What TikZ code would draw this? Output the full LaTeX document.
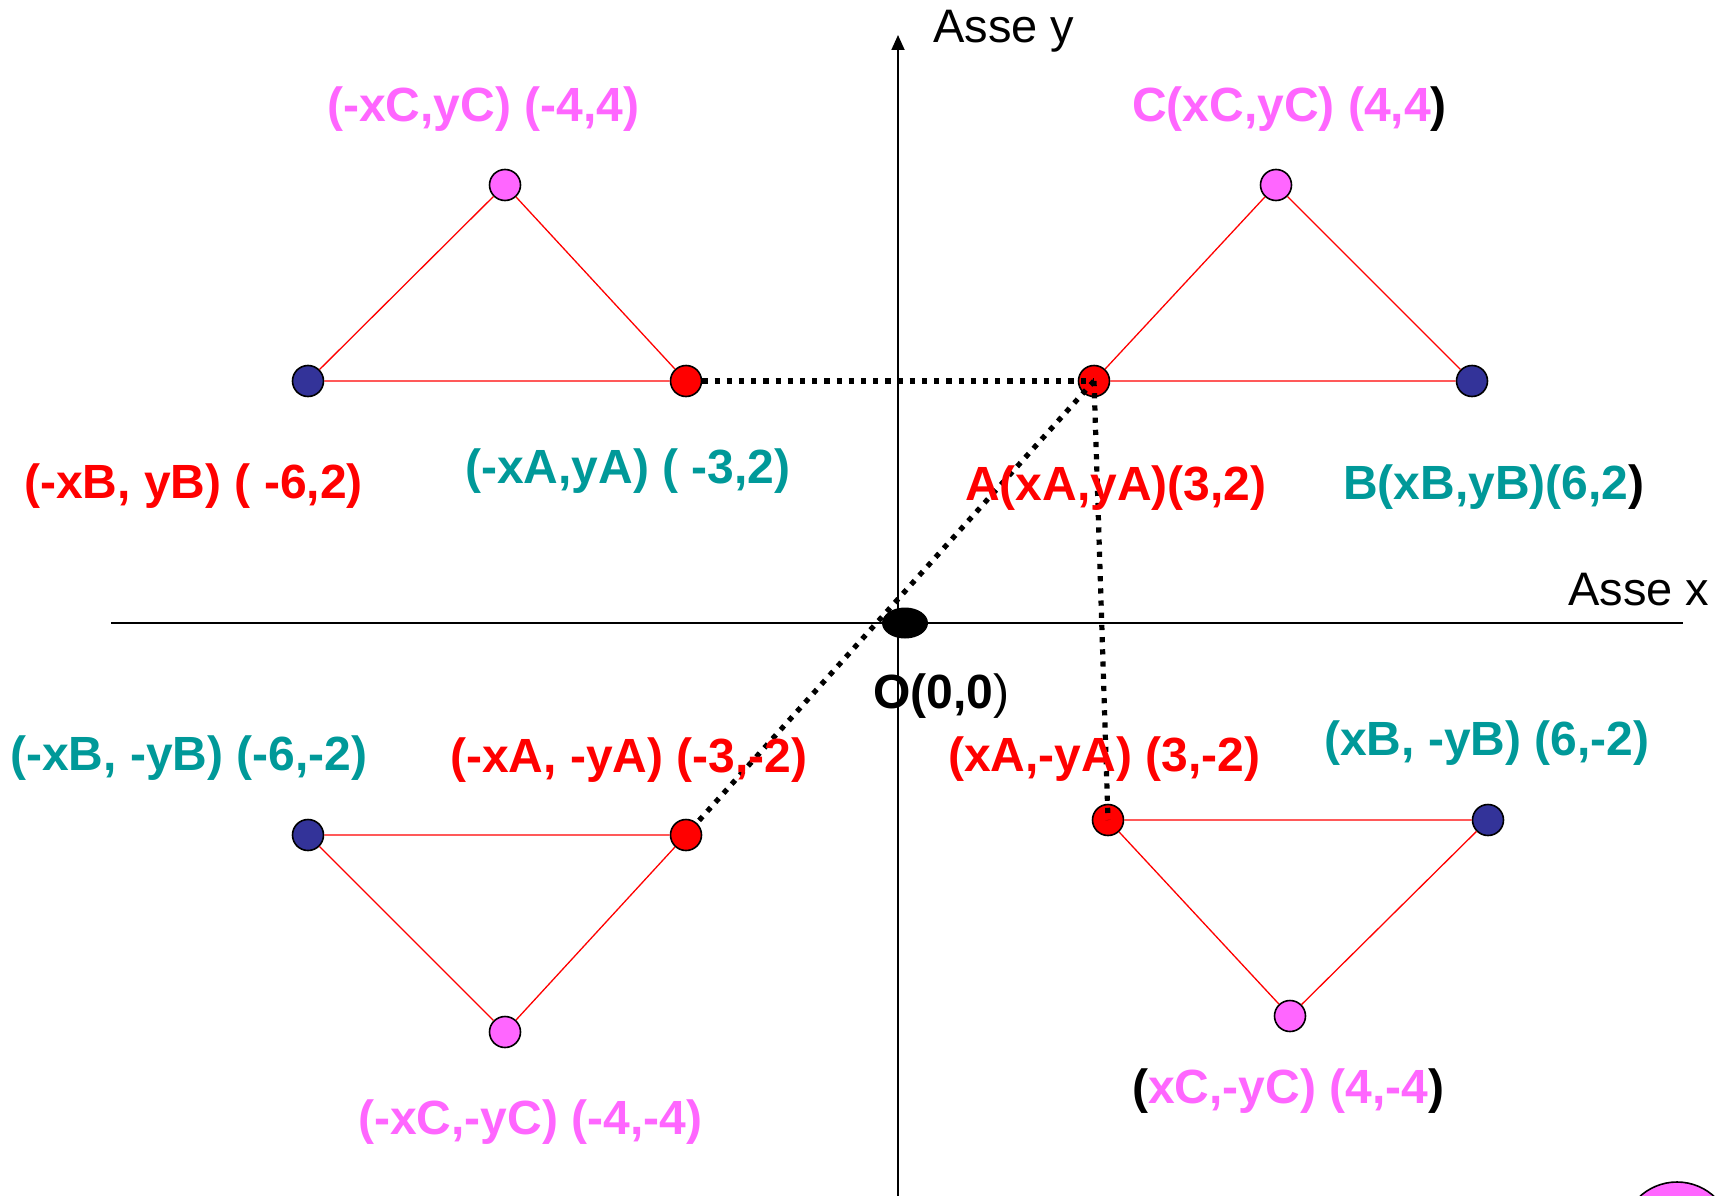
\documentclass[tikz,border=0pt]{standalone}
\usepackage{fontspec}
\setmainfont{Liberation Sans}
\usetikzlibrary{arrows.meta,shapes.geometric}
\definecolor{ptPink}{HTML}{FF66FF}
\definecolor{ptRed}{HTML}{FF0000}
\definecolor{ptTeal}{HTML}{009999}
\definecolor{ptBlue}{HTML}{333399}

\begin{document}
\begin{tikzpicture}[
  x=1pt, y=-1pt,
  font=\fontsize{47}{51}\selectfont,
  axis/.style={line width=1.8pt, draw=black},
  tri/.style={line width=1.3pt, draw=ptRed},
  dot/.style={
    circle, draw=black, line width=1.6pt, minimum size=31pt, inner sep=0pt
  },
  proj/.style={line width=5.2pt, draw=black, dash pattern=on 5.2pt off 7pt},
  lbl/.style={
    anchor=base west, inner sep=0pt, font=\fontsize{48}{52}\selectfont\bfseries
  },
]
\useasboundingbox (0,0) rectangle (1729,1196);

% axes
\coordinate (xl) at (111,623);
\coordinate (xr) at (1683,623);
\coordinate (yb) at (898,1196);
\coordinate (yt) at (898,35);
\draw[axis] (xl) -- (xr);
\draw[axis, -{Triangle[length=15pt,width=13pt]}] (yb) -- (yt);
\node[anchor=base west, inner sep=0pt] (ylab) at (933,43) {Asse y};
\node[anchor=base west, inner sep=0pt] (xlab) at (1568,605) {Asse x};

% the four triangles
\node[dot, fill=ptRed]  (A) at (1094,381) {};
\node[dot, fill=ptBlue] (B) at (1472,381) {};
\node[dot, fill=ptPink] (C) at (1276,185) {};

\node[dot, fill=ptRed]  (nA) at (686,381) {};
\node[dot, fill=ptBlue] (nB) at (308,381) {};
\node[dot, fill=ptPink] (nC) at (505,185) {};

\node[dot, fill=ptRed]  (nnA) at (686,835) {};
\node[dot, fill=ptBlue] (nnB) at (308,835) {};
\node[dot, fill=ptPink] (nnC) at (505,1032) {};

\node[dot, fill=ptRed]  (sA) at (1108,820) {};
\node[dot, fill=ptBlue] (sB) at (1488,820) {};
\node[dot, fill=ptPink] (sC) at (1290,1016) {};

\draw[tri] (A) -- (B) -- (C) -- (A);
\draw[tri] (nA) -- (nB) -- (nC) -- (nA);
\draw[tri] (nnA) -- (nnB) -- (nnC) -- (nnA);
\draw[tri] (sA) -- (sB) -- (sC) -- (sA);

\node[ellipse, fill=black, minimum width=46pt, minimum height=31pt,
  inner sep=0pt] (O) at (905,623) {};
\node[dot, fill=ptPink, minimum size=110pt] (corner) at (1677,1237) {};

% projections of A
\draw[proj] (nA) -- (A.center);
\draw[proj] (A.center) -- (nnA);
\draw[proj] (A.center) -- (sA.center);

% labels
\node[lbl, text=ptPink] (lnC) at (327,122) {(-xC,yC) (-4,4)};
\node[lbl, text=ptPink] (lC) at (1132,122) {C(xC,yC) (4,4\textcolor{black}{)}};
\node[lbl, text=ptRed]  (lnB) at (24,498) {(-xB, yB) ( -6,2)};
\node[lbl, text=ptTeal] (lnA) at (465,483) {(-xA,yA) ( -3,2)};
\node[lbl, text=ptRed]  (lA) at (965,500) {A(xA,yA)(3,2)};
\node[lbl, text=ptTeal] (lB) at (1343,499) {B(xB,yB)(6,2\textcolor{black}{)}};
\node[lbl, text=black]  (lO) at (873,708) {O(0,0{\mdseries )}};
\node[lbl, text=ptTeal] (lnnB) at (10,770) {(-xB, -yB) (-6,-2)};
\node[lbl, text=ptRed]  (lnnA) at (450,772) {(-xA, -yA) (-3,-2)};
\node[lbl, text=ptRed]  (lsA) at (948,771) {(xA,-yA) (3,-2)};
\node[lbl, text=ptTeal] (lsB) at (1324,755) {(xB, -yB) (6,-2)};
\node[lbl, text=ptPink] (lsC) at (1132,1103)
  {\textcolor{black}{(}xC,-yC) (4,-4\textcolor{black}{)}};
\node[lbl, text=ptPink] (lnnC) at (358,1134) {(-xC,-yC) (-4,-4)};

\end{tikzpicture}
\end{document}
